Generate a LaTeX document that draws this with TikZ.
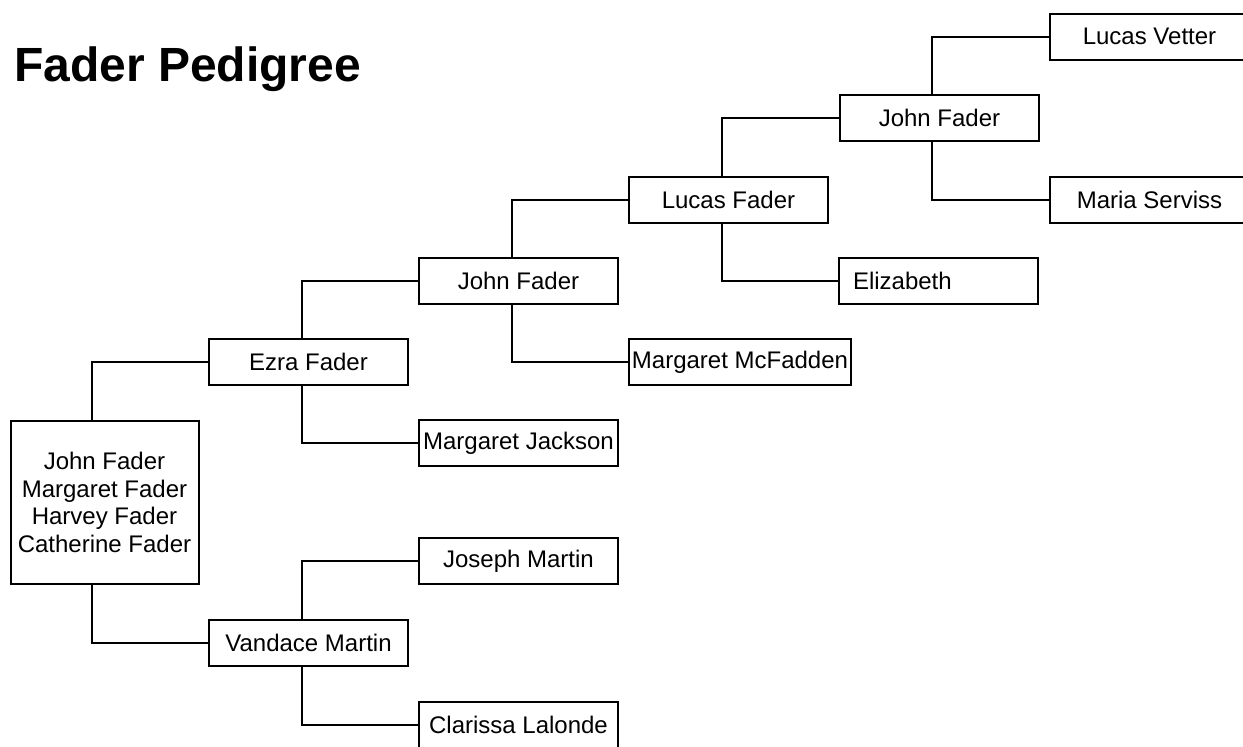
\documentclass[tikz,border=0pt]{standalone}
\usepackage{fontspec}
\setmainfont{Liberation Sans}
\begin{document}
\begin{tikzpicture}[x=1pt,y=-1pt,
  person/.style={draw, line width=2pt, rectangle, minimum width=199pt, minimum height=46pt, inner sep=2pt, align=center, font=\fontsize{24}{27.6}\selectfont},
  link/.style={line width=2pt}]
\useasboundingbox (0,0) rectangle (1243,747);
\clip (0,0) rectangle (1243,747);
\fill[white] (0,0) rectangle (1243,747);

\node[anchor=base west, inner sep=0pt, font=\fontsize{48}{54}\selectfont\bfseries] (title) at (14,81) {Fader Pedigree};

\node[person, minimum width=188pt, minimum height=163pt] (main) at (104.5,502.5) {John Fader\\Margaret Fader\\Harvey Fader\\Catherine Fader};
\node[person] (ez) at (308.5,362) {Ezra Fader};
\node[person] (vm) at (308.5,643) {Vandace Martin};
\node[person] (jf2) at (518.5,281) {John Fader};
\node[person] (mj) at (518.5,443) {Margaret Jackson};
\node[person] (jm) at (518.5,561) {Joseph Martin};
\node[person] (cl) at (518.5,725) {Clarissa Lalonde};
\node[person] (lf) at (728.5,199.5) {Lucas Fader};
\node[person, minimum width=222pt] (mm) at (740,362) {Margaret McFadden};
\node[person] (jf3) at (939.5,118) {John Fader};
\node[person, align=left, text width=171pt, inner xsep=14pt] (el) at (938.5,281) {Elizabeth};
\node[person] (lv) at (1149.5,36.5) {Lucas Vetter};
\node[person] (ms) at (1149.5,199.5) {Maria Serviss};

\draw[link] ([xshift=-12.5pt]main.north) |- (ez.west);
\draw[link] ([xshift=-12.5pt]main.south) |- (vm.west);
\draw[link] ([xshift=-6.5pt]ez.north) |- (jf2.west);
\draw[link] ([xshift=-6.5pt]ez.south) |- (mj.west);
\draw[link] ([xshift=-6.5pt]vm.north) |- (jm.west);
\draw[link] ([xshift=-6.5pt]vm.south) |- (cl.west);
\draw[link] ([xshift=-6.5pt]jf2.north) |- (lf.west);
\draw[link] ([xshift=-6.5pt]jf2.south) |- (mm.west);
\draw[link] ([xshift=-6.5pt]lf.north) |- (jf3.west);
\draw[link] ([xshift=-6.5pt]lf.south) |- (el.west);
\draw[link] ([xshift=-7.5pt]jf3.north) |- (lv.west);
\draw[link] ([xshift=-7.5pt]jf3.south) |- (ms.west);
\end{tikzpicture}
\end{document}
